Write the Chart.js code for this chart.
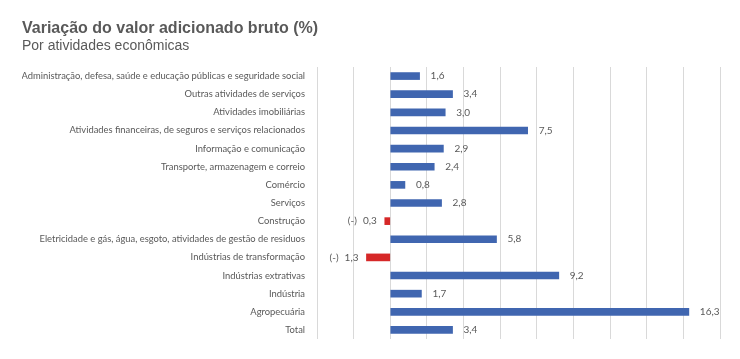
<!DOCTYPE html>
<html><head><meta charset="utf-8">
<script src="https://cdn.jsdelivr.net/npm/chart.js@4/dist/chart.umd.min.js"></script>
<style>html,body{margin:0;padding:0;background:#fff}</style>
</head><body>
<canvas id="c" width="740" height="359"></canvas>
<script>
const categories = [
  "Administração, defesa, saúde e educação públicas e seguridade social",
  "Outras atividades de serviços",
  "Atividades imobiliárias",
  "Atividades financeiras, de seguros e serviços relacionados",
  "Informação e comunicação",
  "Transporte, armazenagem e correio",
  "Comércio",
  "Serviços",
  "Construção",
  "Eletricidade e gás, água, esgoto, atividades de gestão de residuos",
  "Indústrias de transformação",
  "Indústrias extrativas",
  "Indústria",
  "Agropecuária",
  "Total"
];
const values = [1.6, 3.4, 3.0, 7.5, 2.9, 2.4, 0.8, 2.8, -0.3, 5.8, -1.3, 9.2, 1.7, 16.3, 3.4];
const axisMin = -4, axisMax = 18, axisStep = 2;
const titleText = "Variação do valor adicionado bruto (%)";
const subtitleText = "Por atividades econômicas";

const BLUE = "#4066b0", RED = "#d62828", GREY = "#595959";

const valueLabels = {
  id: "valueLabels",
  afterDatasetsDraw(chart) {
    const ctx = chart.ctx;
    const meta = chart.getDatasetMeta(0);
    ctx.save();
    ctx.font = "10px Lato, 'Open Sans', sans-serif";
    ctx.fillStyle = GREY;
    ctx.textBaseline = "middle";
    meta.data.forEach((bar, i) => {
      const v = values[i];
      const txt = Math.abs(v).toFixed(1).replace(".", ",");
      if (v >= 0) {
        ctx.textAlign = "left";
        ctx.fillText(txt, bar.x + 11, bar.y);
      } else {
        ctx.textAlign = "right";
        const xr = bar.x - 8;
        ctx.fillText(txt, xr, bar.y);
        const w = ctx.measureText(txt).width;
        ctx.fillText("(-)", xr - w - 6, bar.y);
      }
    });
    ctx.restore();
  }
};

new Chart(document.getElementById("c"), {
  type: "bar",
  data: {
    labels: categories,
    datasets: [{
      data: values,
      backgroundColor: values.map(v => v < 0 ? RED : BLUE),
      barThickness: 7,
      borderWidth: 0
    }]
  },
  plugins: [valueLabels],
  options: {
    indexAxis: "y",
    responsive: false,
    devicePixelRatio: 1,
    animation: false,
    layout: { padding: { left: 22, right: 20, top: 19, bottom: 20 } },
    plugins: {
      legend: { display: false },
      tooltip: { enabled: false },
      title: {
        display: true, text: titleText, align: "start", color: GREY,
        font: { family: "'Liberation Sans', Arial, sans-serif", size: 16, weight: "bold" },
        padding: { top: 0, bottom: 0 }
      },
      subtitle: {
        display: true, text: subtitleText, align: "start", color: GREY,
        font: { family: "'Liberation Sans', Arial, sans-serif", size: 14, weight: "normal" },
        padding: { top: 0, bottom: 12 }
      }
    },
    scales: {
      x: {
        min: axisMin, max: axisMax,
        ticks: { display: false, stepSize: axisStep },
        grid: { color: "#d9d9d9", drawTicks: false, lineWidth: 1 },
        border: { display: false }
      },
      y: {
        grid: { display: false, drawTicks: false },
        border: { display: false },
        ticks: { color: GREY, font: { family: "Lato, 'Open Sans', sans-serif", size: 9.4 }, padding: 12, autoSkip: false },
        afterFit(s) { s.width = 295; }
      }
    }
  }
});
</script>
</body></html>
